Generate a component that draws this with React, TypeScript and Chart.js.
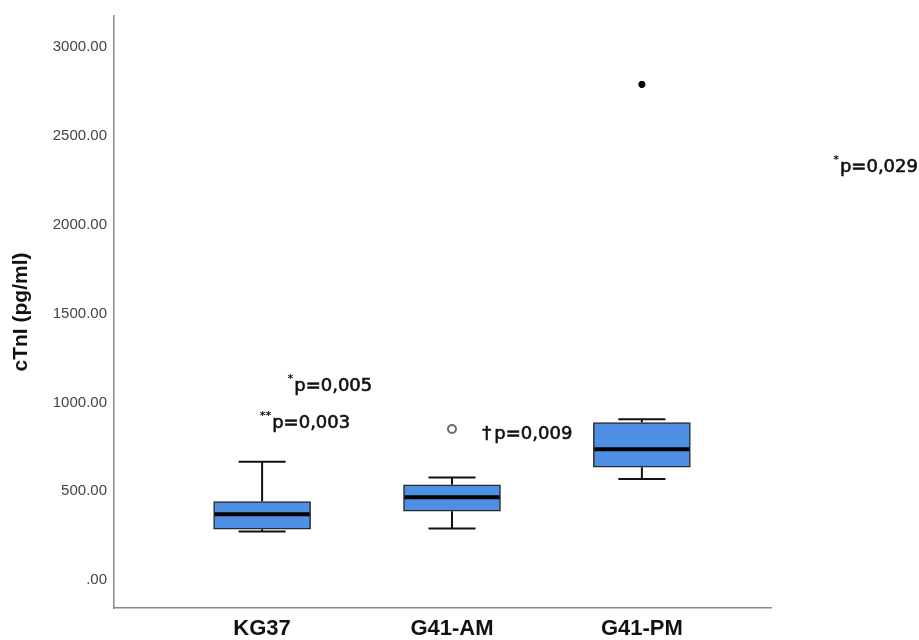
import { useEffect, useRef } from 'react';
import { Chart, registerables } from 'chart.js';

Chart.register(...registerables);

// ---- data ----
const categories = ['KG37', 'G41-AM', 'G41-PM'];
const groupPos = [1, 2, 3];
const whiskerLow = [274, 290, 569];
const q1 = [286, 388, 635];
const median = [370, 467, 737];
const q3 = [442, 536, 887];
const whiskerHigh = [666, 577, 905];
const outlierGroup = [2];
const outlierValue = [850];
const extremeGroup = [3];
const extremeValue = [2790];
const yTicks = [0, 500, 1000, 1500, 2000, 2500, 3000];

// p-value annotations (anchored in data units)
const pTexts = ['p=0,005', 'p=0,003', 'p=0,009', 'p=0,029'];
const pMarks = ['*', '**', '\u2020', '*'];
const pAnchorX = [1.169, 1.053, 2.223, 4.043];
const pAnchorY = [1092, 885, 823, 2324];

const LABEL_FONT = "'Liberation Sans', Arial, sans-serif";
const P_FONT = "'DejaVu Sans', Verdana, sans-serif";

const boxExtras = {
  id: 'boxExtras',
  beforeDatasetsDraw(chart: any) {
    const { ctx, scales } = chart;
    const x = scales.x;
    const y = scales.y;
    ctx.save();
    ctx.strokeStyle = '#111';
    ctx.lineWidth = 2;
    groupPos.forEach((p, i) => {
      const cx = x.getPixelForValue(p);
      const half = x.getPixelForValue(p + 0.124) - cx;
      const yHi = y.getPixelForValue(whiskerHigh[i]);
      const yLo = y.getPixelForValue(whiskerLow[i]);
      const yQ3 = y.getPixelForValue(q3[i]);
      const yQ1 = y.getPixelForValue(q1[i]);
      ctx.beginPath();
      ctx.moveTo(cx, yQ3);
      ctx.lineTo(cx, yHi);
      ctx.moveTo(cx - half, yHi);
      ctx.lineTo(cx + half, yHi);
      ctx.moveTo(cx, yQ1);
      ctx.lineTo(cx, yLo);
      ctx.moveTo(cx - half, yLo);
      ctx.lineTo(cx + half, yLo);
      ctx.stroke();
    });
    ctx.restore();
  },
  afterDatasetsDraw(chart: any) {
    const { ctx, scales } = chart;
    const x = scales.x;
    const y = scales.y;
    const meta = chart.getDatasetMeta(0);
    ctx.save();
    ctx.strokeStyle = '#000';
    ctx.lineWidth = 4;
    groupPos.forEach((p, i) => {
      const bar = meta.data[i];
      const halfW = bar ? bar.width / 2 - 1 : 47;
      const cx = x.getPixelForValue(p);
      const ym = y.getPixelForValue(median[i]);
      ctx.beginPath();
      ctx.moveTo(cx - halfW, ym);
      ctx.lineTo(cx + halfW, ym);
      ctx.stroke();
    });
    // p-value texts
    ctx.fillStyle = '#111';
    ctx.strokeStyle = '#111';
    ctx.lineWidth = 0.6;
    ctx.textBaseline = 'middle';
    pTexts.forEach((t, i) => {
      const px = x.getPixelForValue(pAnchorX[i]);
      const py = y.getPixelForValue(pAnchorY[i]);
      ctx.textAlign = 'left';
      ctx.font = `18px ${P_FONT}`;
      ctx.fillText(t, px, py);
      ctx.strokeText(t, px, py);
      ctx.textAlign = 'right';
      if (pMarks[i] === '\u2020') {
        ctx.font = `18px ${P_FONT}`;
        ctx.fillText(pMarks[i], px - 3, py);
        ctx.strokeText(pMarks[i], px - 3, py);
      } else {
        ctx.font = `bold 11px ${P_FONT}`;
        ctx.fillText(pMarks[i], px - 1, py - 7);
      }
    });
    ctx.restore();
  },
};

export default function App() {
  const canvasRef = useRef<HTMLCanvasElement | null>(null);

  useEffect(() => {
    if (!canvasRef.current) return;
    const chart = new Chart(canvasRef.current, {
      type: 'bar',
      data: {
        datasets: [
          {
            type: 'bar',
            data: groupPos.map((p, i) => ({ x: p, y: [q1[i], q3[i]] })) as any,
            backgroundColor: '#4f8fe3',
            borderColor: '#2a2a2a',
            borderWidth: 1.5,
            borderSkipped: false,
            barThickness: 97,
            grouped: false,
          } as any,
          {
            type: 'scatter',
            data: outlierGroup.map((g, i) => ({ x: groupPos[g - 1], y: outlierValue[i] })),
            pointStyle: 'circle',
            pointRadius: 4,
            pointBackgroundColor: '#ffffff',
            pointBorderColor: '#6a6a6a',
            pointBorderWidth: 2,
          } as any,
          {
            type: 'scatter',
            data: extremeGroup.map((g, i) => ({ x: groupPos[g - 1], y: extremeValue[i] })),
            pointStyle: 'star',
            pointRadius: 3.5,
            pointBorderColor: '#000000',
            pointBackgroundColor: '#000000',
            pointBorderWidth: 2.5,
          } as any,
        ],
      },
      options: {
        animation: false,
        responsive: true,
        maintainAspectRatio: false,
        layout: { padding: { top: 13, right: 148, left: 0, bottom: 0 } },
        plugins: {
          legend: { display: false },
          tooltip: { enabled: false },
        },
        scales: {
          x: {
            type: 'linear',
            min: 0.22,
            max: 3.68,
            offset: false,
            grid: { display: false, drawTicks: false, offset: false },
            border: { display: true, color: '#8a8a8a', width: 1.5 },
            afterBuildTicks: (scale: any) => {
              scale.ticks = groupPos.map((v) => ({ value: v }));
            },
            afterFit: (scale: any) => {
              scale.height = 32;
            },
            ticks: {
              autoSkip: false,
              maxRotation: 0,
              padding: 8,
              color: '#111',
              font: { family: LABEL_FONT, size: 22, weight: 'bold' },
              callback: (v: any) => {
                const idx = groupPos.indexOf(Number(v));
                return idx >= 0 ? categories[idx] : '';
              },
            },
          },
          y: {
            type: 'linear',
            min: -157,
            max: 3175,
            grid: { display: false, drawTicks: false },
            border: { display: true, color: '#8a8a8a', width: 1.5 },
            afterBuildTicks: (scale: any) => {
              scale.ticks = yTicks.map((v) => ({ value: v }));
            },
            afterFit: (scale: any) => {
              scale.width = 114;
            },
            title: {
              display: true,
              text: 'cTnI (pg/ml)',
              color: '#111',
              font: { family: LABEL_FONT, size: 21, weight: 'bold' },
              padding: { top: 9, bottom: 0 },
            },
            ticks: {
              padding: 7,
              color: '#444',
              font: { family: LABEL_FONT, size: 15 },
              callback: (v: any) => (Number(v) === 0 ? '.00' : Number(v).toFixed(2)),
            },
          },
        },
      },
      plugins: [boxExtras],
    });
    return () => chart.destroy();
  }, []);

  return (
    <div style={{ position: 'absolute', left: 0, top: 0, width: 919, height: 640, background: '#fff' }}>
      <canvas ref={canvasRef} />
    </div>
  );
}
